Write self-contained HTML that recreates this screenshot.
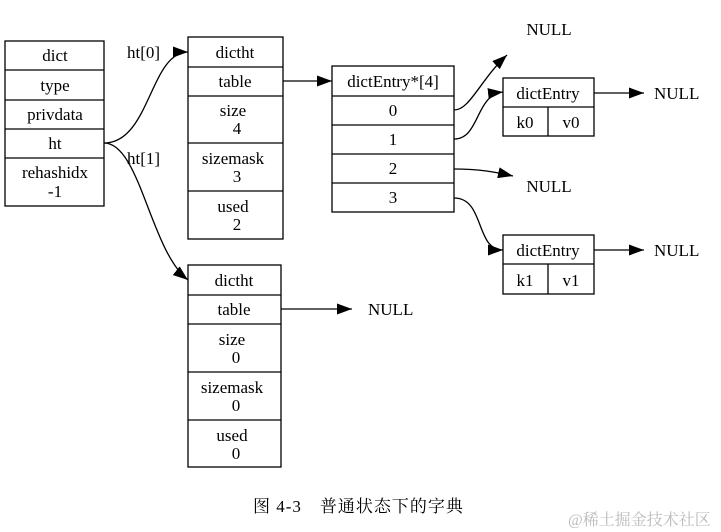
<!DOCTYPE html>
<html><head><meta charset="utf-8"><style>
html,body{margin:0;padding:0;background:#fff;}
svg{display:block;}
text{font-family:"Liberation Serif","Noto Serif CJK SC",serif;font-size:17px;fill:#000;}
</style></head><body>
<svg width="721" height="532" viewBox="0 0 721 532" xmlns="http://www.w3.org/2000/svg">
<defs><marker id="b" markerWidth="15" markerHeight="11" refX="15" refY="5.5" orient="auto" markerUnits="userSpaceOnUse"><path d="M0,0 L15,5.5 L0,11 z" fill="#000"/></marker></defs>
<g fill="none" stroke="#000" stroke-width="1.3">
<rect x="5" y="41" width="99" height="165"/>
<line x1="5" y1="70" x2="104" y2="70"/><line x1="5" y1="100" x2="104" y2="100"/><line x1="5" y1="129" x2="104" y2="129"/><line x1="5" y1="158" x2="104" y2="158"/>
<rect x="188" y="37" width="95" height="202"/>
<line x1="188" y1="67" x2="283" y2="67"/><line x1="188" y1="96" x2="283" y2="96"/><line x1="188" y1="143" x2="283" y2="143"/><line x1="188" y1="191" x2="283" y2="191"/>
<rect x="188" y="265" width="93" height="202"/>
<line x1="188" y1="295" x2="281" y2="295"/><line x1="188" y1="324" x2="281" y2="324"/><line x1="188" y1="372" x2="281" y2="372"/><line x1="188" y1="420" x2="281" y2="420"/>
<rect x="332" y="66" width="122" height="146"/>
<line x1="332" y1="96" x2="454" y2="96"/><line x1="332" y1="125" x2="454" y2="125"/><line x1="332" y1="154" x2="454" y2="154"/><line x1="332" y1="183" x2="454" y2="183"/>
<rect x="503" y="78" width="91" height="58"/><line x1="503" y1="107" x2="594" y2="107"/><line x1="548" y1="107" x2="548" y2="136"/>
<rect x="503" y="235" width="91" height="59"/><line x1="503" y1="264" x2="594" y2="264"/><line x1="548" y1="264" x2="548" y2="294"/>
<path d="M104,143 C150,143 150,52 188,52" marker-end="url(#b)"/>
<path d="M104,143 C140,143 150,250 188,280" marker-end="url(#b)"/>
<line x1="283" y1="81" x2="332" y2="81" marker-end="url(#b)"/>
<line x1="281" y1="309" x2="352" y2="309" marker-end="url(#b)"/>
<path d="M454,110 C470,110 480,80 507,55" marker-end="url(#b)"/>
<path d="M454,139 C480,139 475,95 503,92" marker-end="url(#b)"/>
<path d="M454,169 C480,169 495,172 513,176" marker-end="url(#b)"/>
<path d="M454,198 C485,198 475,250 503,250" marker-end="url(#b)"/>
<line x1="594" y1="93" x2="644" y2="93" marker-end="url(#b)"/>
<line x1="594" y1="250" x2="644" y2="250" marker-end="url(#b)"/>
</g>
<g text-anchor="middle">
<text x="55" y="61">dict</text><text x="55" y="91">type</text><text x="55" y="120">privdata</text><text x="55" y="149">ht</text>
<text x="55" y="178">rehashidx</text><text x="55" y="197">-1</text>
<text x="235" y="58">dictht</text><text x="235" y="87">table</text>
<text x="233" y="116">size</text><text x="237" y="134">4</text>
<text x="233" y="164">sizemask</text><text x="237" y="182">3</text>
<text x="233" y="212">used</text><text x="237" y="230">2</text>
<text x="234" y="286">dictht</text><text x="234" y="315">table</text>
<text x="232" y="345">size</text><text x="236" y="363">0</text>
<text x="232" y="393">sizemask</text><text x="236" y="411">0</text>
<text x="232" y="441">used</text><text x="236" y="459">0</text>
<text x="393" y="87">dictEntry*[4]</text><text x="393" y="116">0</text><text x="393" y="145">1</text><text x="393" y="174">2</text><text x="393" y="203">3</text>
<text x="548" y="99">dictEntry</text><text x="525" y="128">k0</text><text x="571" y="128">v0</text>
<text x="548" y="256">dictEntry</text><text x="525" y="286">k1</text><text x="571" y="286">v1</text>
<text x="549" y="35">NULL</text><text x="549" y="192">NULL</text>
</g>
<text x="654" y="99">NULL</text><text x="654" y="256">NULL</text><text x="368" y="315">NULL</text>
<text x="127" y="58">ht[0]</text><text x="127" y="164">ht[1]</text>
<text x="253" y="512" style="font-size:17px;letter-spacing:1px">图 4-3　普通状态下的字典</text>
<text x="568" y="525" style="font-size:16px;fill:#bbb">@稀土掘金技术社区</text>
</svg>
</body></html>
